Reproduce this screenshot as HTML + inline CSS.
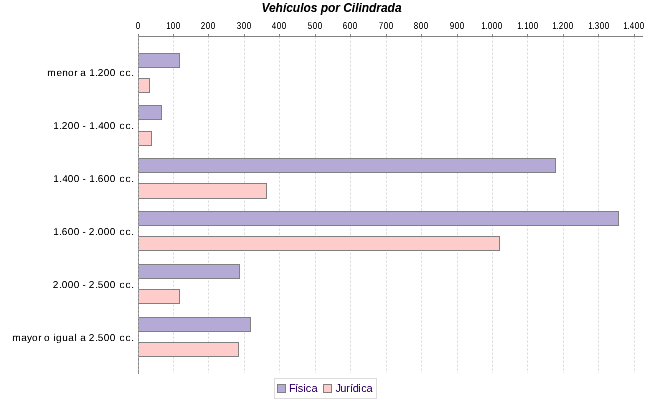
<!DOCTYPE html>
<html lang="es"><head><meta charset="utf-8"><title>Vehículos por Cilindrada</title>
<style>
html,body{margin:0;padding:0;background:#fff;}
body{width:650px;height:400px;overflow:hidden;position:relative;font-family:"Liberation Sans",sans-serif;}
svg{position:absolute;left:0;top:0;display:block}
text{font-family:"Liberation Sans",sans-serif}
.title{font-size:12px;font-weight:bold;font-style:italic;letter-spacing:-0.035px}
.cat text{font-size:10px;stroke:#000;stroke-width:0px;text-rendering:geometricPrecision}
.tick text{font-size:10px;stroke:#000;stroke-width:0px;text-rendering:geometricPrecision}
.leg text{font-size:11px;fill:#330066}
</style></head><body>
<svg width="650" height="400" viewBox="0 0 650 400">
<defs><filter id="bd" x="0" y="0" width="650" height="400" filterUnits="userSpaceOnUse" color-interpolation-filters="sRGB"><feComponentTransfer><feFuncA type="table" tableValues="0 0.18 0.55 0.9 1"/></feComponentTransfer></filter><filter id="bt" x="0" y="0" width="650" height="400" filterUnits="userSpaceOnUse" color-interpolation-filters="sRGB"><feComponentTransfer><feFuncA type="table" tableValues="0 0.18 0.55 0.9 1"/></feComponentTransfer></filter></defs>
<rect width="650" height="400" fill="#fff"/>
<text class="title" x="331.5" y="11.7" text-anchor="middle" fill="#000" filter="url(#bd)">Vehículos por Cilindrada</text>
<g stroke="#d8d8d8" stroke-width="1" stroke-dasharray="2 2">
<line x1="173.5" y1="36.6" x2="173.5" y2="373"/>
<line x1="208.5" y1="36.6" x2="208.5" y2="373"/>
<line x1="244.5" y1="36.6" x2="244.5" y2="373"/>
<line x1="279.5" y1="36.6" x2="279.5" y2="373"/>
<line x1="315.5" y1="36.6" x2="315.5" y2="373"/>
<line x1="350.5" y1="36.6" x2="350.5" y2="373"/>
<line x1="386.5" y1="36.6" x2="386.5" y2="373"/>
<line x1="421.5" y1="36.6" x2="421.5" y2="373"/>
<line x1="457.5" y1="36.6" x2="457.5" y2="373"/>
<line x1="492.5" y1="36.6" x2="492.5" y2="373"/>
<line x1="527.5" y1="36.6" x2="527.5" y2="373"/>
<line x1="563.5" y1="36.6" x2="563.5" y2="373"/>
<line x1="598.5" y1="36.6" x2="598.5" y2="373"/>
<line x1="634.5" y1="36.6" x2="634.5" y2="373"/>
</g>
<g shape-rendering="crispEdges" stroke="#808080" stroke-width="1">
<rect x="138.5" y="53.5" width="41" height="14" fill="#b5a9d6"/>
<rect x="138.5" y="78.5" width="11" height="14" fill="#ffcccc"/>
<rect x="138.5" y="105.5" width="23" height="14" fill="#b5a9d6"/>
<rect x="138.5" y="131.5" width="13" height="14" fill="#ffcccc"/>
<rect x="138.5" y="158.5" width="417" height="14" fill="#b5a9d6"/>
<rect x="138.5" y="183.5" width="128" height="15" fill="#ffcccc"/>
<rect x="138.5" y="211.5" width="480" height="14" fill="#b5a9d6"/>
<rect x="138.5" y="236.5" width="361" height="14" fill="#ffcccc"/>
<rect x="138.5" y="264.5" width="101" height="14" fill="#b5a9d6"/>
<rect x="138.5" y="289.5" width="41" height="14" fill="#ffcccc"/>
<rect x="138.5" y="317.5" width="112" height="14" fill="#b5a9d6"/>
<rect x="138.5" y="342.5" width="100" height="14" fill="#ffcccc"/>
</g>
<g shape-rendering="crispEdges" stroke="#808080" stroke-width="1">
<line x1="138" y1="36.5" x2="643" y2="36.5"/>
<line x1="138.5" y1="34" x2="138.5" y2="374"/>
<line x1="173.5" y1="34" x2="173.5" y2="36"/>
<line x1="208.5" y1="34" x2="208.5" y2="36"/>
<line x1="244.5" y1="34" x2="244.5" y2="36"/>
<line x1="279.5" y1="34" x2="279.5" y2="36"/>
<line x1="315.5" y1="34" x2="315.5" y2="36"/>
<line x1="350.5" y1="34" x2="350.5" y2="36"/>
<line x1="386.5" y1="34" x2="386.5" y2="36"/>
<line x1="421.5" y1="34" x2="421.5" y2="36"/>
<line x1="457.5" y1="34" x2="457.5" y2="36"/>
<line x1="492.5" y1="34" x2="492.5" y2="36"/>
<line x1="527.5" y1="34" x2="527.5" y2="36"/>
<line x1="563.5" y1="34" x2="563.5" y2="36"/>
<line x1="598.5" y1="34" x2="598.5" y2="36"/>
<line x1="634.5" y1="34" x2="634.5" y2="36"/>
</g>
<line x1="138.5" y1="36.6" x2="138.5" y2="373" stroke="#a8a8a8" stroke-dasharray="2 2"/>
<g class="tick" fill="#000" filter="url(#bt)">
<text transform="translate(136,29) scale(0.8,1)" x="-0.312" y="0">0</text>
<text transform="translate(166,29) scale(0.8,1)" x="0.312 5.938 12.188" y="0">100</text>
<text transform="translate(201,29) scale(0.8,1)" x="-0.312 5.938 12.188" y="0">200</text>
<text transform="translate(237,29) scale(0.8,1)" x="-0.312 5.938 12.188" y="0">300</text>
<text transform="translate(272,29) scale(0.8,1)" x="-0.312 5.938 12.188" y="0">400</text>
<text transform="translate(308,29) scale(0.8,1)" x="-0.312 5.938 12.188" y="0">500</text>
<text transform="translate(343,29) scale(0.8,1)" x="-0.312 5.938 12.188" y="0">600</text>
<text transform="translate(379,29) scale(0.8,1)" x="-0.312 5.938 12.188" y="0">700</text>
<text transform="translate(414,29) scale(0.8,1)" x="-0.312 5.938 12.188" y="0">800</text>
<text transform="translate(450,29) scale(0.8,1)" x="-0.312 5.938 12.188" y="0">900</text>
<text transform="translate(481,29) scale(0.8,1)" x="0.312 5.312 8.438 14.688 20.938" y="0">1.000</text>
<text transform="translate(517,29) scale(0.8,1)" x="0.312 5.312 9.062 14.688 20.938" y="0">1.100</text>
<text transform="translate(552,29) scale(0.8,1)" x="0.312 5.312 8.438 14.688 20.938" y="0">1.200</text>
<text transform="translate(588,29) scale(0.8,1)" x="0.312 5.312 8.438 14.688 20.938" y="0">1.300</text>
<text transform="translate(623,29) scale(0.8,1)" x="0.312 5.312 8.438 14.688 20.938" y="0">1.400</text>
</g>
<g class="cat" fill="#000" filter="url(#bd)">
<text x="47.25 56.5 62.25 68 74.25 77 80.25 86 89.25 95.25 97.75 103.75 109.75 116 119.5 125.5 131.25" y="76.0">menor a 1.200 cc.</text>
<text x="53.25 59.25 61.75 67.75 73.75 80 82.5 86 89.25 95.25 98.25 103.75 109.75 116 119.5 125.5 131.25" y="129.0">1.200 - 1.400 cc.</text>
<text x="53.25 59.25 62.25 67.75 73.75 80 82.5 86 89.25 95.25 97.75 103.75 109.75 116 119.5 125.5 131.25" y="182.0">1.400 - 1.600 cc.</text>
<text x="53.25 59.25 61.75 67.75 73.75 80 82.5 86 88.75 95.25 97.75 103.75 109.75 116 119.5 125.5 131.25" y="235.0">1.600 - 2.000 cc.</text>
<text x="52.75 59.25 61.75 67.75 73.75 80 82.5 86 88.75 95.25 97.75 103.75 109.75 116 119.5 125.5 131.25" y="288.0">2.000 - 2.500 cc.</text>
<text x="12.25 21.25 27 32 38.25 41 44 50 53.5 56 62.25 68.25 74.5 77 80.25 86 88.75 95.25 97.75 103.75 109.75 116 119.5 125.5 131.25" y="341.0">mayor o igual a 2.500 cc.</text>
</g>
<g shape-rendering="crispEdges">
<rect x="274.5" y="378.5" width="102" height="20" fill="#fff" stroke="#dcdcdc"/>
<rect x="277.5" y="384.5" width="8" height="8" fill="#b5a9d6" stroke="#808080"/>
<rect x="323.5" y="384.5" width="8" height="8" fill="#ffcccc" stroke="#808080"/>
</g>
<g class="leg" filter="url(#bd)">
<text x="289 295 297.75 303.25 305.75 311.5" y="392">Física</text>
<text x="335.5 340.25 346.25 350 352.75 358.25 361.25 366.5" y="392">Jurídica</text>
</g>
</svg>
</body></html>
